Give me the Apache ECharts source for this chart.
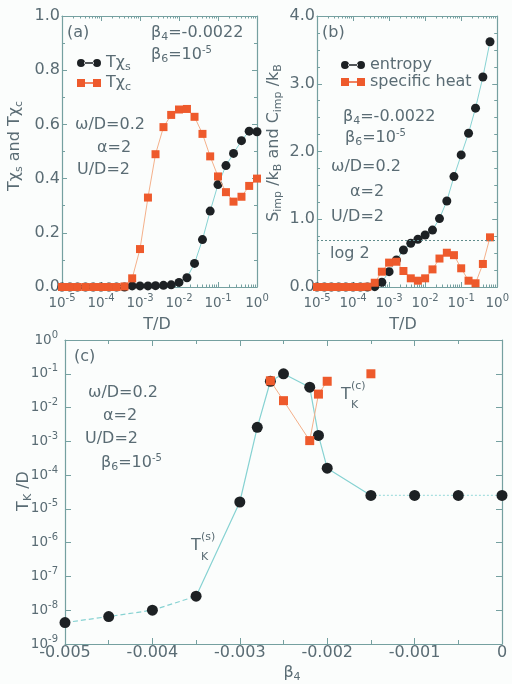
<!DOCTYPE html>
<html>
<head>
<meta charset="utf-8">
<script src="https://cdn.jsdelivr.net/npm/echarts@6/dist/echarts.min.js"></script>
<style>
  html, body { margin: 0; padding: 0; background: #fbfdfc; }
  #chart { width: 512px; height: 684px; }
</style>
</head>
<body>
<div id="chart"></div>
<script>
// ---- panel (a): susceptibilities vs temperature ----
const tempA = [1e-5, 1.6e-5, 2.5e-5, 4e-5, 6.3e-5, 1e-4, 1.6e-4, 2.5e-4, 4e-4,
  6.3e-4, 1e-3, 1.6e-3, 2.5e-3, 4e-3, 6.3e-3, 1e-2, 1.6e-2, 2.5e-2, 4e-2, 6.3e-2,
  0.1, 0.16, 0.25, 0.4, 0.63, 1.0];
const chiSpin = [0, 0, 0, 0, 0, 0, 0, 0, 0,
  0.004, 0.004, 0.004, 0.005, 0.006, 0.008, 0.017, 0.034, 0.087, 0.175, 0.28,
  0.378, 0.448, 0.493, 0.54, 0.575, 0.573];
const chiCharge = [0, 0, 0, 0, 0, 0, 0, 0, 0.002,
  0.032, 0.14, 0.33, 0.49, 0.59, 0.635, 0.655, 0.657, 0.628, 0.565, 0.482,
  0.408, 0.35, 0.315, 0.333, 0.373, 0.400];

// ---- panel (b): entropy and specific heat vs temperature ----
const tempB = [1e-5, 1.6e-5, 2.5e-5, 4e-5, 6.3e-5, 1e-4, 1.6e-4, 2.5e-4, 4e-4,
  6.3e-4, 1e-3, 1.6e-3, 2.5e-3, 4e-3, 6.3e-3, 1e-2, 1.6e-2, 2.5e-2, 4e-2, 6.3e-2,
  0.1, 0.16, 0.25, 0.4, 0.63];
const entropy = [0, 0, 0, 0, 0, 0, 0, 0, 0.005,
  0.07, 0.226, 0.40, 0.546, 0.645, 0.704, 0.768, 0.84, 1.01, 1.27, 1.63,
  1.95, 2.27, 2.64, 3.10, 3.62];
const specHeat = [0, 0, 0, 0, 0, 0, 0, 0.004, 0.063,
  0.226, 0.36, 0.373, 0.236, 0.128, 0.093, 0.128, 0.26, 0.42, 0.506, 0.47,
  0.276, 0.093, 0.055, 0.34, 0.733];
const log2 = Math.log(2);

// ---- panel (c): Kondo temperatures vs beta4 ----
const beta4Spin = [-0.005, -0.0045, -0.004, -0.0035, -0.003, -0.0028, -0.00265,
  -0.0025, -0.0022, -0.0021, -0.002, -0.0015, -0.001, -0.0005, 0];
const tkSpin = [4.3e-9, 6.5e-9, 1.0e-8, 2.6e-8, 1.6e-5, 2.6e-3, 6.0e-2,
  1.0e-1, 4.0e-2, 1.5e-3, 1.6e-4, 2.5e-5, 2.5e-5, 2.5e-5, 2.5e-5];
const beta4Charge = [-0.00265, -0.0025, -0.0022, -0.0021, -0.002, -0.0015];
const tkCharge = [6.2e-2, 1.6e-2, 1.05e-3, 2.5e-2, 6.0e-2, 1.0e-1];
// where the connecting line changes style (index into beta4Spin)
const dashedEnd = 3, solidEnd = 11;
const chargeLineCount = 5;

const TXT = '#5a6c74';
const AX = '#75a0a0';
const CYAN = '#86d2d2';
const BLACK = '#1d2124';
const RED = '#ee5a2c';
const ORANGE = '#f4b08a';
const FONT = 'DejaVu Sans, Liberation Sans, sans-serif';

function makeRich(key) {
  const c = {}; c[key] = TXT;
  return {
    n: Object.assign({ fontSize: 16, lineHeight: 20, fontFamily: FONT }, c),
    t: Object.assign({ fontSize: 13.5, lineHeight: 20, fontFamily: FONT }, c),
    sup: Object.assign({ fontSize: 10, lineHeight: 10, verticalAlign: 'top', fontFamily: FONT }, c),
    sub: Object.assign({ fontSize: 11, lineHeight: 10, verticalAlign: 'bottom', fontFamily: FONT }, c)
  };
}
const rich = makeRich('color');
const grich = makeRich('fill');

function powLabel(v) {
  const e = Math.round(Math.log10(v));
  return '{t|10}{sup|' + e + '}';
}

const line = { show: true, onZero: false, lineStyle: { color: AX, width: 1.2 } };

function logX(grid, pos, show) {
  return {
    type: 'log', logBase: 10, gridIndex: grid, position: pos,
    min: 1e-5, max: 1, interval: 1,
    axisLine: line,
    axisTick: { show: true, inside: true, length: 5, lineStyle: { color: AX } },
    minorTick: { show: true, splitNumber: 9, length: 2.5, lineStyle: { color: AX } },
    splitLine: { show: false },
    axisLabel: show ? { show: true, margin: 6, formatter: powLabel, rich: rich } : { show: false }
  };
}
function linY(grid, pos, max, interval, minorSplit, show) {
  return {
    type: 'value', gridIndex: grid, position: pos,
    min: 0, max: max, interval: interval,
    axisLine: line,
    axisTick: { show: true, inside: true, length: 5, lineStyle: { color: AX } },
    minorTick: { show: true, splitNumber: minorSplit, length: 3, lineStyle: { color: AX } },
    splitLine: { show: false },
    axisLabel: show ? { show: true, margin: 2, color: TXT, fontSize: 16, fontFamily: FONT,
      formatter: v => v.toFixed(1) } : { show: false }
  };
}
function betaX(pos, show) {
  return {
    type: 'value', gridIndex: 2, position: pos,
    min: -0.005, max: 0, interval: 0.001,
    axisLine: line,
    axisTick: { show: true, inside: true, length: 6, lineStyle: { color: AX } },
    minorTick: { show: true, splitNumber: 2, length: 4, lineStyle: { color: AX } },
    splitLine: { show: false },
    axisLabel: show ? { show: true, margin: 1, color: TXT, fontSize: 16, fontFamily: FONT } : { show: false }
  };
}
function tkY(pos, show) {
  return {
    type: 'log', logBase: 10, gridIndex: 2, position: pos,
    min: 1e-9, max: 1, interval: 1,
    axisLine: line,
    axisTick: { show: true, inside: true, length: 6, lineStyle: { color: AX } },
    splitLine: { show: false },
    axisLabel: show ? { show: true, margin: 7, formatter: powLabel, rich: rich } : { show: false }
  };
}

const pairs = (xs, ys) => xs.map((x, i) => [x, ys[i]]);
const spinPts = pairs(beta4Spin, tkSpin);
const chargePts = pairs(beta4Charge, tkCharge);

const legendNames = {
  'Tχs': '{n|Tχ}{sub|s}',
  'Tχc': '{n|Tχ}{sub|c}',
  'entropy': '{n|entropy}',
  'specific heat': '{n|specific heat}'
};
// legend keys: two markers joined by a short line
const circlePair = 'path://M0,4a4,4 0 1,0 8,0a4,4 0 1,0 -8,0zM16,4a4,4 0 1,0 8,0a4,4 0 1,0 -8,0zM7,3.2h10v1.6h-10z';
const squarePair = 'path://M0,0h8v8h-8zM16,0h8v8h-8zM7,3.2h10v1.6h-10z';

function gtext(x, y, text, extra) {
  return {
    type: 'text', x: x, y: y, silent: true,
    rotation: extra && extra.rotate ? Math.PI / 2 : 0,
    style: { text: text, rich: grich, fill: TXT, font: '16px ' + FONT,
      align: extra && extra.align ? extra.align : 'left', verticalAlign: 'middle' }
  };
}
function small(x, y, text) {
  return { type: 'text', x: x, y: y, silent: true,
    style: { text: text, fill: TXT, font: '11px ' + FONT, verticalAlign: 'middle' } };
}

const option = {
  backgroundColor: '#fbfdfc',
  animation: false,
  grid: [
    { left: 62, right: 255, top: 16, bottom: 397 },
    { left: 317, right: 4, top: 16, bottom: 397 },
    { left: 65, right: 10, top: 340, bottom: 40 }
  ],
  xAxis: [logX(0, 'bottom', true), logX(0, 'top', false),
          logX(1, 'bottom', true), logX(1, 'top', false),
          betaX('bottom', true), betaX('top', false)],
  yAxis: [linY(0, 'left', 1, 0.2, 2, true), linY(0, 'right', 1, 0.2, 2, false),
          linY(1, 'left', 4, 1, 4, true), linY(1, 'right', 4, 1, 4, false),
          tkY('left', true), tkY('right', false)],
  legend: [
    {
      left: 72, top: 50, orient: 'vertical', itemWidth: 24, itemHeight: 8, itemGap: 2,
      selectedMode: false,
      data: [{ name: 'Tχs', icon: circlePair }, { name: 'Tχc', icon: squarePair }],
      formatter: n => legendNames[n], textStyle: { rich: rich }
    },
    {
      left: 336, top: 52, orient: 'vertical', itemWidth: 24, itemHeight: 8, itemGap: 1,
      selectedMode: false,
      data: [{ name: 'entropy', icon: circlePair }, { name: 'specific heat', icon: squarePair }],
      formatter: n => legendNames[n], textStyle: { rich: rich }
    }
  ],
  series: [
    // panel (a)
    { type: 'line', name: 'Tχs', xAxisIndex: 0, yAxisIndex: 0, data: pairs(tempA, chiSpin),
      symbol: 'circle', symbolSize: 9, showAllSymbol: true, z: 2,
      itemStyle: { color: BLACK }, lineStyle: { color: CYAN, width: 1 } },
    { type: 'line', name: 'Tχc', xAxisIndex: 0, yAxisIndex: 0, data: pairs(tempA, chiCharge),
      symbol: 'rect', symbolSize: 8, showAllSymbol: true, z: 3,
      itemStyle: { color: RED }, lineStyle: { color: ORANGE, width: 1 } },
    // panel (b)
    { type: 'line', name: 'entropy', xAxisIndex: 2, yAxisIndex: 2, data: pairs(tempB, entropy),
      symbol: 'circle', symbolSize: 9, showAllSymbol: true, z: 2,
      itemStyle: { color: BLACK }, lineStyle: { color: CYAN, width: 1 },
      markLine: { silent: true, symbol: 'none', label: { show: false },
        lineStyle: { color: '#5f8c8c', type: [2, 2], width: 1 },
        data: [{ yAxis: log2 }] } },
    { type: 'line', name: 'specific heat', xAxisIndex: 2, yAxisIndex: 2, data: pairs(tempB, specHeat),
      symbol: 'rect', symbolSize: 8, showAllSymbol: true, z: 3,
      itemStyle: { color: RED }, lineStyle: { color: ORANGE, width: 1 } },
    // panel (c): connecting lines
    { type: 'line', xAxisIndex: 4, yAxisIndex: 4, data: spinPts.slice(0, dashedEnd + 1),
      symbol: 'none', lineStyle: { color: CYAN, width: 1.2, type: [5, 3] }, z: 1 },
    { type: 'line', xAxisIndex: 4, yAxisIndex: 4, data: spinPts.slice(dashedEnd, solidEnd + 1),
      symbol: 'none', lineStyle: { color: CYAN, width: 1.2 }, z: 1 },
    { type: 'line', xAxisIndex: 4, yAxisIndex: 4, data: spinPts.slice(solidEnd),
      symbol: 'none', lineStyle: { color: '#a8e0e0', width: 1.2, type: [2, 2] }, z: 1 },
    { type: 'line', xAxisIndex: 4, yAxisIndex: 4, data: chargePts.slice(0, chargeLineCount),
      symbol: 'none', lineStyle: { color: ORANGE, width: 1 }, z: 1 },
    // panel (c): markers
    { type: 'scatter', xAxisIndex: 4, yAxisIndex: 4, data: spinPts,
      symbol: 'circle', symbolSize: 11, itemStyle: { color: BLACK, opacity: 1 }, z: 2 },
    { type: 'scatter', xAxisIndex: 4, yAxisIndex: 4, data: chargePts,
      symbol: 'rect', symbolSize: 9, itemStyle: { color: RED, opacity: 1 }, z: 3 }
  ],
  graphic: [
    // panel (a) annotations
    gtext(67, 33, '{n|(a)}'),
    gtext(151, 33, '{n|β}{sub|4}{n|=-0.0022}'),
    gtext(151, 55, '{n|β}{sub|6}{n|=10}{sup|-5}'),
    gtext(75, 125, '{n|ω/D=0.2}'),
    gtext(97, 148, '{n|α=2}'),
    gtext(77, 170, '{n|U/D=2}'),
    gtext(15, 146, '{n|Tχ}{sub|s}{n| and Tχ}{sub|c}', { rotate: true, align: 'center' }),
    gtext(157, 325, '{n|T/D}', { align: 'center' }),
    // panel (b) annotations
    gtext(322, 33, '{n|(b)}'),
    gtext(343, 117, '{n|β}{sub|4}{n|=-0.0022}'),
    gtext(345, 138, '{n|β}{sub|6}{n|=10}{sup|-5}'),
    gtext(331, 167, '{n|ω/D=0.2}'),
    gtext(350, 192, '{n|α=2}'),
    gtext(331, 217, '{n|U/D=2}'),
    gtext(330, 254, '{n|log 2}'),
    gtext(274, 143, '{n|S}{sub|imp}{n| /k}{sub|B}{n| and C}{sub|imp}{n| /k}{sub|B}', { rotate: true, align: 'center' }),
    gtext(403, 325, '{n|T/D}', { align: 'center' }),
    // panel (c) annotations
    gtext(74, 357, '{n|(c)}'),
    gtext(88, 393, '{n|ω/D=0.2}'),
    gtext(103, 416, '{n|α=2}'),
    gtext(85, 439, '{n|U/D=2}'),
    gtext(101, 463, '{n|β}{sub|6}{n|=10}{sup|-5}'),
    gtext(191, 546, '{n|T}'),
    small(201, 537, '(s)'),
    small(201, 557, 'K'),
    gtext(341, 395, '{n|T}'),
    small(351, 386, '(c)'),
    small(351, 405, 'K'),
    gtext(24, 491, '{n|T}{sub|K}{n| /D}', { rotate: true, align: 'center' }),
    gtext(292, 673, '{n|β}{sub|4}', { align: 'center' })
  ]
};

const chart = echarts.init(document.getElementById('chart'), null, { renderer: 'canvas' });
chart.setOption(option);
</script>
</body>
</html>
